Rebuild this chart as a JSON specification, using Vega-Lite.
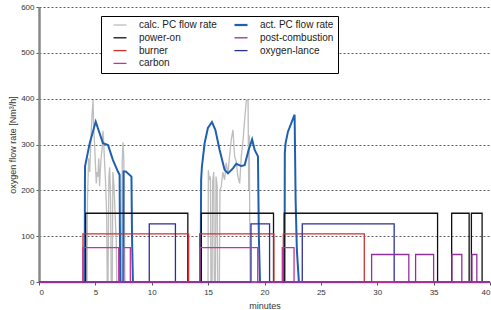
{
  "$schema": "https://vega.github.io/schema/vega-lite/v6.json",
  "width": 451,
  "height": 275,
  "autosize": {"type": "none"},
  "padding": {"left": 39, "top": 7, "right": 1, "bottom": 28},
  "background": "white",
  "config": {
    "view": {"stroke": null},
    "font": "Liberation Sans",
    "axis": {"labelFont": "Liberation Sans", "titleFont": "Liberation Sans", "labelFontSize": 8, "labelColor": "#333", "titleFontSize": 9, "titleFontWeight": "normal", "titleColor": "#333", "tickColor": "#555", "tickSize": 3, "labelPadding": 2},
    "legend": {"labelFont": "Liberation Sans"}
  },
  "datasets": {
    "pc": [
      {"s":"calc. PC flow rate","t":0,"v":0},{"s":"calc. PC flow rate","t":4.26,"v":0},{"s":"calc. PC flow rate","t":4.3,"v":180},{"s":"calc. PC flow rate","t":4.4,"v":270},{"s":"calc. PC flow rate","t":4.5,"v":240},{"s":"calc. PC flow rate","t":4.6,"v":310},{"s":"calc. PC flow rate","t":4.7,"v":360},{"s":"calc. PC flow rate","t":4.79,"v":397},{"s":"calc. PC flow rate","t":4.85,"v":340},{"s":"calc. PC flow rate","t":4.93,"v":300},{"s":"calc. PC flow rate","t":5.0,"v":260},{"s":"calc. PC flow rate","t":5.08,"v":215},{"s":"calc. PC flow rate","t":5.15,"v":240},{"s":"calc. PC flow rate","t":5.23,"v":230},{"s":"calc. PC flow rate","t":5.3,"v":270},{"s":"calc. PC flow rate","t":5.37,"v":209},{"s":"calc. PC flow rate","t":5.45,"v":250},{"s":"calc. PC flow rate","t":5.52,"v":274},{"s":"calc. PC flow rate","t":5.6,"v":290},{"s":"calc. PC flow rate","t":5.67,"v":330},{"s":"calc. PC flow rate","t":5.75,"v":300},{"s":"calc. PC flow rate","t":5.82,"v":259},{"s":"calc. PC flow rate","t":5.9,"v":220},{"s":"calc. PC flow rate","t":6.0,"v":150},{"s":"calc. PC flow rate","t":6.05,"v":0},{"s":"calc. PC flow rate","t":6.12,"v":0},{"s":"calc. PC flow rate","t":6.2,"v":230},{"s":"calc. PC flow rate","t":6.27,"v":250},{"s":"calc. PC flow rate","t":6.35,"v":180},{"s":"calc. PC flow rate","t":6.4,"v":0},{"s":"calc. PC flow rate","t":6.5,"v":0},{"s":"calc. PC flow rate","t":6.55,"v":240},{"s":"calc. PC flow rate","t":6.65,"v":210},{"s":"calc. PC flow rate","t":6.75,"v":150},{"s":"calc. PC flow rate","t":6.85,"v":90},{"s":"calc. PC flow rate","t":6.9,"v":0},{"s":"calc. PC flow rate","t":7.3,"v":0},{"s":"calc. PC flow rate","t":7.38,"v":260},{"s":"calc. PC flow rate","t":7.45,"v":305},{"s":"calc. PC flow rate","t":7.52,"v":270},{"s":"calc. PC flow rate","t":7.58,"v":120},{"s":"calc. PC flow rate","t":7.62,"v":0},{"s":"calc. PC flow rate","t":14.99,"v":0},{"s":"calc. PC flow rate","t":15.02,"v":244},{"s":"calc. PC flow rate","t":15.1,"v":223},{"s":"calc. PC flow rate","t":15.2,"v":230},{"s":"calc. PC flow rate","t":15.25,"v":0},{"s":"calc. PC flow rate","t":15.35,"v":0},{"s":"calc. PC flow rate","t":15.4,"v":220},{"s":"calc. PC flow rate","t":15.5,"v":240},{"s":"calc. PC flow rate","t":15.55,"v":0},{"s":"calc. PC flow rate","t":15.65,"v":0},{"s":"calc. PC flow rate","t":15.7,"v":230},{"s":"calc. PC flow rate","t":15.8,"v":210},{"s":"calc. PC flow rate","t":15.85,"v":0},{"s":"calc. PC flow rate","t":16.0,"v":0},{"s":"calc. PC flow rate","t":16.05,"v":200},{"s":"calc. PC flow rate","t":16.17,"v":209},{"s":"calc. PC flow rate","t":16.3,"v":240},{"s":"calc. PC flow rate","t":16.46,"v":223},{"s":"calc. PC flow rate","t":16.6,"v":260},{"s":"calc. PC flow rate","t":16.76,"v":237},{"s":"calc. PC flow rate","t":16.9,"v":274},{"s":"calc. PC flow rate","t":17.05,"v":310},{"s":"calc. PC flow rate","t":17.2,"v":332},{"s":"calc. PC flow rate","t":17.35,"v":274},{"s":"calc. PC flow rate","t":17.5,"v":262},{"s":"calc. PC flow rate","t":17.64,"v":230},{"s":"calc. PC flow rate","t":17.8,"v":215},{"s":"calc. PC flow rate","t":17.94,"v":274},{"s":"calc. PC flow rate","t":18.1,"v":310},{"s":"calc. PC flow rate","t":18.24,"v":354},{"s":"calc. PC flow rate","t":18.39,"v":397},{"s":"calc. PC flow rate","t":18.54,"v":397},{"s":"calc. PC flow rate","t":18.6,"v":200},{"s":"calc. PC flow rate","t":18.65,"v":320},{"s":"calc. PC flow rate","t":18.72,"v":0},{"s":"calc. PC flow rate","t":40,"v":0},
      {"s":"act. PC flow rate","t":0,"v":0},{"s":"act. PC flow rate","t":4.05,"v":0},{"s":"act. PC flow rate","t":4.08,"v":252},{"s":"act. PC flow rate","t":4.5,"v":303},{"s":"act. PC flow rate","t":5.03,"v":350},{"s":"act. PC flow rate","t":5.3,"v":330},{"s":"act. PC flow rate","t":5.67,"v":303},{"s":"act. PC flow rate","t":6.12,"v":299},{"s":"act. PC flow rate","t":6.56,"v":266},{"s":"act. PC flow rate","t":7.0,"v":241},{"s":"act. PC flow rate","t":7.15,"v":234},{"s":"act. PC flow rate","t":7.2,"v":0},{"s":"act. PC flow rate","t":7.47,"v":0},{"s":"act. PC flow rate","t":7.5,"v":241},{"s":"act. PC flow rate","t":7.7,"v":241},{"s":"act. PC flow rate","t":8.2,"v":230},{"s":"act. PC flow rate","t":8.25,"v":100},{"s":"act. PC flow rate","t":8.33,"v":0},{"s":"act. PC flow rate","t":14.33,"v":0},{"s":"act. PC flow rate","t":14.38,"v":223},{"s":"act. PC flow rate","t":14.45,"v":252},{"s":"act. PC flow rate","t":14.69,"v":303},{"s":"act. PC flow rate","t":14.98,"v":336},{"s":"act. PC flow rate","t":15.34,"v":349},{"s":"act. PC flow rate","t":15.64,"v":332},{"s":"act. PC flow rate","t":16.02,"v":288},{"s":"act. PC flow rate","t":16.46,"v":245},{"s":"act. PC flow rate","t":16.76,"v":237},{"s":"act. PC flow rate","t":17.2,"v":248},{"s":"act. PC flow rate","t":17.5,"v":258},{"s":"act. PC flow rate","t":17.94,"v":253},{"s":"act. PC flow rate","t":18.24,"v":255},{"s":"act. PC flow rate","t":18.59,"v":288},{"s":"act. PC flow rate","t":18.9,"v":311},{"s":"act. PC flow rate","t":19.13,"v":288},{"s":"act. PC flow rate","t":19.42,"v":274},{"s":"act. PC flow rate","t":19.5,"v":100},{"s":"act. PC flow rate","t":19.6,"v":0},{"s":"act. PC flow rate","t":21.78,"v":0},{"s":"act. PC flow rate","t":21.8,"v":281},{"s":"act. PC flow rate","t":21.87,"v":303},{"s":"act. PC flow rate","t":22.08,"v":328},{"s":"act. PC flow rate","t":22.37,"v":346},{"s":"act. PC flow rate","t":22.67,"v":365},{"s":"act. PC flow rate","t":22.76,"v":179},{"s":"act. PC flow rate","t":22.87,"v":70},{"s":"act. PC flow rate","t":23.05,"v":0},{"s":"act. PC flow rate","t":40,"v":0}
    ],
    "steps": [
      {"s":"power-on","t":0,"v":0},{"s":"power-on","t":4.14,"v":150},{"s":"power-on","t":13.2,"v":0},{"s":"power-on","t":14.4,"v":150},{"s":"power-on","t":20.8,"v":0},{"s":"power-on","t":21.75,"v":150},{"s":"power-on","t":35.35,"v":0},{"s":"power-on","t":36.6,"v":150},{"s":"power-on","t":38.15,"v":0},{"s":"power-on","t":38.35,"v":150},{"s":"power-on","t":39.3,"v":0},{"s":"power-on","t":40,"v":0},
      {"s":"burner","t":0,"v":0},{"s":"burner","t":3.9,"v":105},{"s":"burner","t":13.27,"v":0},{"s":"burner","t":14.25,"v":105},{"s":"burner","t":20.83,"v":0},{"s":"burner","t":21.67,"v":105},{"s":"burner","t":28.85,"v":0},{"s":"burner","t":40,"v":0},
      {"s":"oxygen-lance","t":0,"v":0},{"s":"oxygen-lance","t":9.78,"v":127},{"s":"oxygen-lance","t":12.1,"v":0},{"s":"oxygen-lance","t":18.8,"v":127},{"s":"oxygen-lance","t":20.45,"v":0},{"s":"oxygen-lance","t":23.35,"v":127},{"s":"oxygen-lance","t":31.5,"v":0},{"s":"oxygen-lance","t":40,"v":0},
      {"s":"carbon","t":0,"v":0},{"s":"carbon","t":3.9,"v":75},{"s":"carbon","t":7.07,"v":0},{"s":"carbon","t":7.5,"v":75},{"s":"carbon","t":8.1,"v":0},{"s":"carbon","t":14.25,"v":75},{"s":"carbon","t":19.4,"v":0},{"s":"carbon","t":21.58,"v":75},{"s":"carbon","t":22.62,"v":0},{"s":"carbon","t":40,"v":0},
      {"s":"post-combustion","t":0,"v":0},{"s":"post-combustion","t":29.5,"v":60},{"s":"post-combustion","t":32.8,"v":0},{"s":"post-combustion","t":33.4,"v":60},{"s":"post-combustion","t":35.0,"v":0},{"s":"post-combustion","t":36.62,"v":60},{"s":"post-combustion","t":37.5,"v":0},{"s":"post-combustion","t":38.4,"v":60},{"s":"post-combustion","t":38.83,"v":0},{"s":"post-combustion","t":40,"v":0}
    ]
  },
  "encoding": {
    "x": {"field": "t", "type": "quantitative", "title": "minutes",
      "scale": {"domain": [0, 40], "nice": false},
      "axis": {"values": [0,5,10,15,20,25,30,35,40], "grid": false, "domainColor": "#888", "domainWidth": 1.5, "labelPadding": 3, "titlePadding": 5}},
    "y": {"field": "v", "type": "quantitative", "title": "oxygen flow rate [Nm³/h]",
      "scale": {"domain": [0, 600], "nice": false},
      "axis": {"values": [0,100,200,300,400,500,600], "grid": true, "gridColor": "#333", "gridDash": [2,2], "gridWidth": 0.8, "domainColor": "#888", "domainWidth": 2.5, "titlePadding": 3}},
    "color": {"field": "s", "type": "nominal",
      "scale": {"domain": ["calc. PC flow rate","act. PC flow rate","power-on","post-combustion","burner","oxygen-lance","carbon"],
        "range": ["#bdbdbd","#1f5fb0","#111111","#93309f","#d03030","#2e2e96","#c8309e"]},
      "legend": {"title": null, "orient": "none", "legendX": 62, "legendY": 9, "columns": 2, "direction": "horizontal", "symbolType": "stroke", "symbolSize": 169, "labelFontSize": 10, "labelColor": "#222", "strokeColor": "black", "fillColor": "white", "padding": 4, "rowPadding": 2.8, "columnPadding": 9, "symbolOffset": 10, "labelOffset": 14,
        "encode": {"symbols": {"update": {"strokeWidth": {"signal": "datum.value === 'act. PC flow rate' ? 2.2 : 1.3"}}}}}},
    "strokeWidth": {"condition": {"test": "datum.s === 'act. PC flow rate'", "value": 2}, "value": 1.3}
  },
  "layer": [
    {"data": {"name": "pc"}, "mark": {"type": "line", "interpolate": "linear"}},
    {"data": {"name": "steps"}, "mark": {"type": "line", "interpolate": "step-after"}}
  ]
}
